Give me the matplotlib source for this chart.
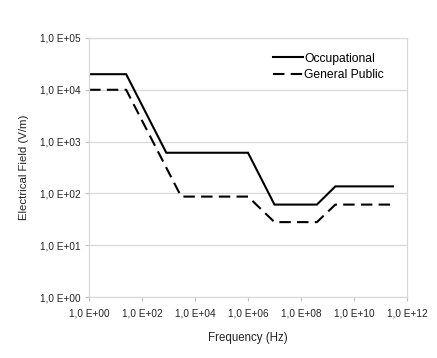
import matplotlib
matplotlib.use("Agg")
import matplotlib.pyplot as plt
from matplotlib.ticker import FixedLocator, NullLocator

plt.rcParams['font.family'] = ['Liberation Sans', 'DejaVu Sans']

# Data
occ_freq = [1, 25, 820, 1e6, 1e7, 4e8, 2e9, 3e11]
occ_field = [20000, 20000, 610, 610, 61, 61, 137, 137]
pub_freq = [1, 25, 3000, 1e6, 1e7, 4e8, 2e9, 3e11]
pub_field = [10000, 10000, 87, 87, 28, 28, 61, 61]

x_ticks = [1e0, 1e2, 1e4, 1e6, 1e8, 1e10, 1e12]
x_labels = ["1,0 E+00", "1,0 E+02", "1,0 E+04", "1,0 E+06", "1,0 E+08", "1,0 E+10", "1,0 E+12"]
y_ticks = [1e0, 1e1, 1e2, 1e3, 1e4, 1e5]
y_labels = ["1,0 E+00", "1,0 E+01", "1,0 E+02", "1,0 E+03", "1,0 E+04", "1,0 E+05"]

fig = plt.figure(figsize=(4.37, 3.58), dpi=100)
ax = fig.add_axes([0.204, 0.170, 0.727, 0.724])

grid_c = '#d9d9d9'
ax.plot(occ_freq, occ_field, color='black', lw=1.5, label='Occupational', solid_joinstyle='miter')
ax.plot(pub_freq, pub_field, color='black', lw=1.5, dashes=(5.5, 3), label='General Public')

ax.set_xscale('log')
ax.set_yscale('log')
ax.set_xlim(1e0, 1e12)
ax.set_ylim(1e0, 1e5)
ax.xaxis.set_major_locator(FixedLocator(x_ticks))
ax.xaxis.set_minor_locator(NullLocator())
ax.yaxis.set_major_locator(FixedLocator(y_ticks))
ax.yaxis.set_minor_locator(NullLocator())
ax.set_xticklabels(x_labels)
ax.set_yticklabels(y_labels)

ax.yaxis.grid(True, color=grid_c, lw=0.9)
ax.set_axisbelow(True)
for s in ax.spines.values():
    s.set_color(grid_c)
    s.set_linewidth(0.9)

ax.tick_params(axis='both', which='major', labelsize=7.2, colors='#222222',
               length=3, width=0.8, direction='out')
ax.tick_params(axis='both', color='#bfbfbf')
ax.tick_params(axis='x', pad=5)
ax.tick_params(axis='y', pad=3)

ax.set_xlabel('Frequency (Hz)', fontsize=8.3, color='#222222', labelpad=10)
ax.set_ylabel('Electrical Field (V/m)', fontsize=8.2, color='#222222', labelpad=8)

leg = ax.legend(loc='upper right', bbox_to_anchor=(0.943, 0.962), frameon=False,
                fontsize=8.7, handlelength=2.5, handletextpad=0.1, labelspacing=0.35,
                borderaxespad=0)

fig.savefig('out.png', dpi=100, facecolor='white')
